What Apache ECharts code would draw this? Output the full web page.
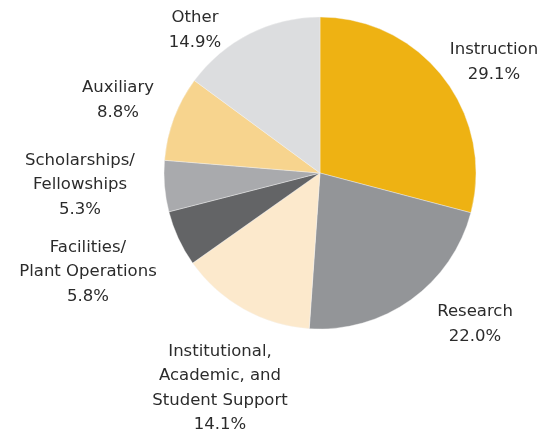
<!DOCTYPE html>
<html>
<head>
<meta charset="utf-8">
<script src="https://cdn.jsdelivr.net/npm/echarts@6/dist/echarts.min.js"></script>
<style>
  html, body { margin: 0; padding: 0; background: #fff; }
  #chart { width: 552px; height: 430px; }
</style>
</head>
<body>
<div id="chart"></div>
<script>
const categories = [
  "Instruction",
  "Research",
  "Institutional,\nAcademic, and\nStudent Support",
  "Facilities/\nPlant Operations",
  "Scholarships/\nFellowships",
  "Auxiliary",
  "Other"
];
const shares = [29.1, 22.0, 14.1, 5.8, 5.3, 8.8, 14.9];
const colors = ["#EEB213", "#939598", "#FCE9CC", "#636466", "#A9AAAD", "#F7D48E", "#DCDDDF"];

// where each label block is centred (chart pixels)
const labelCenters = [
  [494, 62], [475, 324], [220, 388], [88, 272], [80, 185], [118, 100], [195, 30]
];

const chart = echarts.init(document.getElementById("chart"));

chart.setOption({
  animation: false,
  series: [
    {
      type: "pie",
      center: [320, 173],
      radius: 156,
      startAngle: 90,
      clockwise: true,
      data: categories.map((name, i) => ({
        name: name,
        value: shares[i],
        itemStyle: { color: colors[i] }
      })),
      itemStyle: { borderColor: "#f4f4f4", borderWidth: 0.4 },
      label: {
        show: true,
        position: "outside",
        formatter: (p) => p.name + "\n" + p.value.toFixed(1) + "%",
        fontFamily: "DejaVu Sans",
        fontSize: 16.5,
        lineHeight: 24.5,
        color: "#2b2b2b",
        align: "center",
        overflow: "none"
      },
      labelLine: { show: false },
      labelLayout: (params) => ({
        x: labelCenters[params.dataIndex][0],
        y: labelCenters[params.dataIndex][1],
        align: "center",
        verticalAlign: "middle",
        width: 200
      })
    }
  ]
});
</script>
</body>
</html>
